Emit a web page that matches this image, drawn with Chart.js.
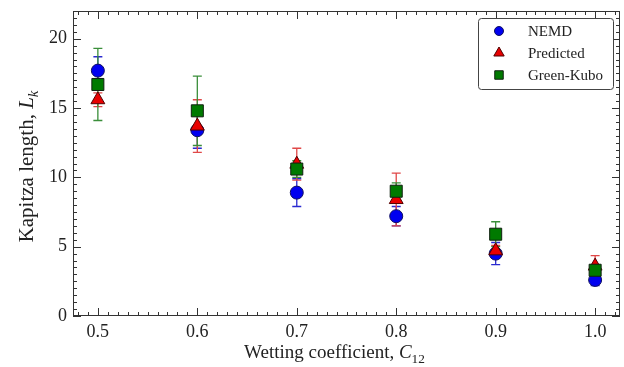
<!DOCTYPE html>
<html>
<head>
<meta charset="utf-8">
<script src="https://cdn.jsdelivr.net/npm/chart.js@4/dist/chart.umd.min.js"></script>
<style>
  html, body { margin: 0; padding: 0; background: #fff; overflow: hidden; }
  canvas { display: block; }
</style>
</head>
<body>
<canvas id="kapitzaChart" width="624" height="367"></canvas>
<script>
const wettingCoeffs = [0.5, 0.6, 0.7, 0.8, 0.9, 1.0];
const nemdValues = [17.7, 13.4, 8.9, 7.2, 4.5, 2.6];
const nemdErrors = [1.0, 1.3, 1.0, 0.7, 0.8, 0.4];
const predictedValues = [15.6, 13.7, 10.95, 8.4, 4.7, 3.6];
const predictedErrors = [0.5, 1.9, 1.15, 1.9, 0.4, 0.75];
const greenKuboValues = [16.7, 14.8, 10.6, 9.0, 5.9, 3.3];
const greenKuboErrors = [2.6, 2.5, 0.6, 0.6, 0.9, 0.4];
const xTickValues = [0.5, 0.6, 0.7, 0.8, 0.9, 1.0];
const yTickValues = [0, 5, 10, 15, 20];

const serif = "'Liberation Serif', 'Times New Roman', serif";

function toPoints(values) {
  return wettingCoeffs.map((x, i) => ({ x: x, y: values[i] }));
}

// error bars, drawn from the dataset's own errors array through the scales
const errorBars = {
  id: 'errorBars',
  beforeDatasetsDraw(chart) {
    const ctx = chart.ctx;
    const xs = chart.scales.x, ys = chart.scales.y;
    chart.data.datasets.forEach(ds => {
      ctx.save();
      ctx.strokeStyle = ds.errorColor;
      ctx.lineWidth = 1.3;
      ds.data.forEach((p, i) => {
        const err = ds.errors[i];
        const px = xs.getPixelForValue(p.x);
        const top = ys.getPixelForValue(p.y + err);
        const bot = ys.getPixelForValue(p.y - err);
        ctx.beginPath();
        ctx.moveTo(px, top); ctx.lineTo(px, bot);
        ctx.moveTo(px - 4.5, top); ctx.lineTo(px + 4.5, top);
        ctx.moveTo(px - 4.5, bot); ctx.lineTo(px + 4.5, bot);
        ctx.stroke();
      });
      ctx.restore();
    });
  }
};

// inward major/minor ticks on all four sides + frame
const frameTicks = {
  id: 'frameTicks',
  beforeDatasetsDraw(chart) {
    const ctx = chart.ctx;
    const a = chart.chartArea;
    const xs = chart.scales.x, ys = chart.scales.y;
    ctx.save();
    ctx.strokeStyle = '#333';
    ctx.lineWidth = 1;
    ctx.beginPath();
    for (let i = Math.ceil(xs.min * 100); i <= Math.floor(xs.max * 100); i++) {
      const px = Math.round(xs.getPixelForValue(i / 100)) + 0.5;
      const len = i % 10 === 0 ? 8 : 4;
      ctx.moveTo(px, a.bottom); ctx.lineTo(px, a.bottom - len);
      ctx.moveTo(px, a.top); ctx.lineTo(px, a.top + len);
    }
    for (let i = Math.ceil(ys.min * 2); i <= Math.floor(ys.max * 2); i++) {
      const py = Math.round(ys.getPixelForValue(i / 2)) + 0.5;
      const len = i % 10 === 0 ? 8 : 4;
      ctx.moveTo(a.left, py); ctx.lineTo(a.left + len, py);
      ctx.moveTo(a.right, py); ctx.lineTo(a.right - len, py);
    }
    ctx.stroke();
    ctx.strokeRect(a.left + 0.5, a.top + 0.5, a.right - a.left - 1, a.bottom - a.top - 1);
    ctx.restore();
  }
};

function drawRich(ctx, parts, x, y, size) {
  const fontOf = p => (p.italic ? 'italic ' : '') + (p.sub ? size * 0.7 : size) + 'px ' + serif;
  let total = 0;
  parts.forEach(p => { ctx.font = fontOf(p); total += ctx.measureText(p.text).width; });
  let cx = x - total / 2;
  parts.forEach(p => {
    ctx.font = fontOf(p);
    ctx.fillText(p.text, cx, y + (p.sub ? size * 0.25 : 0));
    cx += ctx.measureText(p.text).width;
  });
}

const axisTitles = {
  id: 'axisTitles',
  afterDraw(chart) {
    const ctx = chart.ctx;
    const a = chart.chartArea;
    ctx.save();
    ctx.fillStyle = '#222';
    ctx.textAlign = 'left';
    ctx.textBaseline = 'alphabetic';
    drawRich(ctx, [
      { text: 'Wetting coefficient, ' },
      { text: 'C', italic: true },
      { text: '12', sub: true }
    ], (a.left + a.right) / 2 - 12, a.bottom + 42, 19);
    ctx.translate(33, (a.top + a.bottom) / 2 + 3);
    ctx.rotate(-Math.PI / 2);
    drawRich(ctx, [
      { text: 'Kapitza length, ' },
      { text: 'L', italic: true },
      { text: 'k', italic: true, sub: true }
    ], 0, 0, 21);
    ctx.restore();
  }
};

const insideLegend = {
  id: 'insideLegend',
  afterDraw(chart) {
    const ctx = chart.ctx;
    const a = chart.chartArea;
    const w = 135, h = 71;
    const bx = a.right - 7 - w, by = a.top + 7;
    ctx.save();
    ctx.fillStyle = '#fff';
    ctx.strokeStyle = '#444';
    ctx.lineWidth = 1;
    ctx.beginPath();
    ctx.roundRect(bx + 0.5, by + 0.5, w, h, 3);
    ctx.fill();
    ctx.stroke();
    ['NEMD', 'Predicted', 'Green-Kubo'].forEach((name, k) => {
      const ds = chart.data.datasets.find(d => d.label === name);
      const cy = by + 13 + k * 22;
      ctx.fillStyle = ds.backgroundColor;
      ctx.strokeStyle = ds.borderColor;
      Chart.helpers.drawPoint(ctx, {
        pointStyle: ds.pointStyle,
        radius: ds.pointStyle === 'circle' ? 4.5 : 6,
        rotation: 0,
        borderWidth: 1
      }, bx + 21, cy);
      ctx.fillStyle = '#222';
      ctx.font = '15px ' + serif;
      ctx.textAlign = 'left';
      ctx.textBaseline = 'middle';
      ctx.fillText(name, bx + 50, cy + 1);
    });
    ctx.restore();
  }
};

const ctx = document.getElementById('kapitzaChart');
new Chart(ctx, {
  type: 'scatter',
  data: {
    datasets: [
      {
        label: 'NEMD',
        data: toPoints(nemdValues),
        errors: nemdErrors,
        errorColor: '#2a2ad0',
        pointStyle: 'circle',
        pointRadius: 6.5,
        backgroundColor: '#0000f0',
        borderColor: '#101060',
        borderWidth: 1,
        order: 3
      },
      {
        label: 'Predicted',
        data: toPoints(predictedValues),
        errors: predictedErrors,
        errorColor: '#e04848',
        pointStyle: 'triangle',
        pointRadius: 8,
        backgroundColor: '#e80000',
        borderColor: '#500000',
        borderWidth: 1,
        order: 2
      },
      {
        label: 'Green-Kubo',
        data: toPoints(greenKuboValues),
        errors: greenKuboErrors,
        errorColor: '#3a8e3a',
        pointStyle: 'rect',
        pointRadius: 8.5,
        backgroundColor: '#007a00',
        borderColor: '#102010',
        borderWidth: 1,
        order: 1
      }
    ]
  },
  options: {
    responsive: false,
    animation: false,
    devicePixelRatio: 1,
    layout: { autoPadding: false, padding: { top: 11, right: 4, left: 0, bottom: 0 } },
    plugins: {
      legend: { display: false },
      tooltip: { enabled: false }
    },
    scales: {
      x: {
        type: 'linear',
        min: 0.475,
        max: 1.025,
        grid: { display: false, drawTicks: false },
        border: { display: false },
        afterBuildTicks: s => { s.ticks = xTickValues.map(v => ({ value: v })); },
        afterFit: s => { s.height = 51; s.paddingLeft = 0; s.paddingRight = 0; },
        ticks: {
          padding: 5,
          color: '#222',
          font: { family: serif, size: 18 },
          callback: v => Number(v).toFixed(1)
        }
      },
      y: {
        type: 'linear',
        min: 0,
        max: 22,
        grid: { display: false, drawTicks: false },
        border: { display: false },
        afterBuildTicks: s => { s.ticks = yTickValues.map(v => ({ value: v })); },
        afterFit: s => { s.width = 73; s.paddingTop = 0; s.paddingBottom = 0; },
        ticks: {
          padding: 6,
          color: '#222',
          font: { family: serif, size: 18 }
        }
      }
    }
  },
  plugins: [frameTicks, errorBars, axisTitles, insideLegend]
});
</script>
</body>
</html>
